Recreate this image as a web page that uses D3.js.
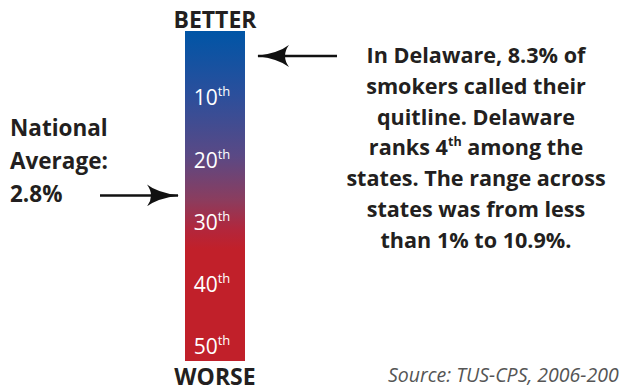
<!DOCTYPE html>
<html><head><meta charset="utf-8">
<script src="https://cdn.jsdelivr.net/npm/d3@7"></script>
<style>
html,body{margin:0;padding:0;background:#fff;}
svg{display:block;}
text{font-family:"Open Sans","Noto Sans",sans-serif;}
</style></head>
<body>
<div id="chart"></div>
<script>
// ---- data ----
const rankDomain = [0, 53];
const rankTicks = [10, 20, 30, 40, 50];
const rankSuffix = "th";
const scaleEnds = ["BETTER", "WORSE"];
const delawareRank = 4;
const nationalAverageRank = 26.4;
const nationalLines = ["National", "Average:", "2.8%"];
const calloutLines = [
  ["In Delaware, 8.3% of"],
  ["smokers called their"],
  ["quitline. Delaware"],
  ["ranks 4", "th", " among the"],
  ["states. The range across"],
  ["states was from less"],
  ["than 1% to 10.9%."]
];
const gradientRanks = [0, 10, 20, 27, 32, 35, 53];
const gradientColors = ["#0055a6", "#2a4f9c", "#5a4985", "#8a3d5f", "#b3263b", "#c1202a", "#c1202a"];
const sourceText = "Source: TUS-CPS, 2006-2007";

// ---- layout ----
const W = 620, H = 387;
const barX0 = 185, barX1 = 245;
const svg = d3.select("#chart").append("svg").attr("width", W).attr("height", H);

const y = d3.scaleLinear().domain(rankDomain).range([31, 361]);
const color = d3.scaleLinear().domain(gradientRanks).range(gradientColors);

const defs = svg.append("defs");
const grad = defs.append("linearGradient").attr("id", "rankGrad")
  .attr("gradientUnits", "userSpaceOnUse")
  .attr("x1", 0).attr("x2", 0).attr("y1", y(rankDomain[0])).attr("y2", y(rankDomain[1]));
grad.selectAll("stop").data(gradientRanks).join("stop")
  .attr("offset", d => (d - rankDomain[0]) / (rankDomain[1] - rankDomain[0]))
  .attr("stop-color", d => color(d));

defs.append("marker").attr("id", "head")
  .attr("viewBox", "0 0 32 22").attr("refX", 31).attr("refY", 11)
  .attr("markerWidth", 32).attr("markerHeight", 22).attr("markerUnits", "userSpaceOnUse")
  .attr("orient", "auto")
  .append("path").attr("d", "M0,0 Q10,8 32,11 Q10,14 0,22 Q8,11 0,0 Z").attr("fill", "#111");

svg.append("rect").attr("x", barX0).attr("width", barX1 - barX0)
  .attr("y", y(rankDomain[0])).attr("height", y(rankDomain[1]) - y(rankDomain[0]))
  .attr("fill", "url(#rankGrad)");

// rank labels
const cx = (barX0 + barX1) / 2;
const lbl = svg.append("g").selectAll("text").data(rankTicks).join("text")
  .attr("x", cx - 3).attr("y", d => y(d) + 12)
  .attr("text-anchor", "middle").attr("fill", "#fff")
  .attr("font-size", 21);
lbl.append("tspan").text(d => d);
lbl.append("tspan").text(rankSuffix).attr("font-size", 13).attr("dy", -9);

// ends
svg.append("text").attr("x", cx).attr("y", 28).attr("text-anchor", "middle")
  .attr("font-weight", "bold").attr("font-size", 23).attr("fill", "#231f20").text(scaleEnds[0]);
svg.append("text").attr("x", cx).attr("y", 385).attr("text-anchor", "middle")
  .attr("font-weight", "bold").attr("font-size", 23).attr("fill", "#231f20").text(scaleEnds[1]);

// Delaware arrow
svg.append("line").attr("x1", 337).attr("x2", 258)
  .attr("y1", y(delawareRank)).attr("y2", y(delawareRank))
  .attr("stroke", "#111").attr("stroke-width", 2.5).attr("marker-end", "url(#head)");

// national average arrow
svg.append("line").attr("x1", 100).attr("x2", 178)
  .attr("y1", y(nationalAverageRank)).attr("y2", y(nationalAverageRank))
  .attr("stroke", "#111").attr("stroke-width", 2.5).attr("marker-end", "url(#head)");

// national text
svg.append("g").selectAll("text").data(nationalLines).join("text")
  .attr("x", 10).attr("y", (d, i) => 136 + i * 33)
  .attr("font-weight", "bold").attr("font-size", 22.5).attr("fill", "#231f20")
  .text(d => d);

// callout
const co = svg.append("g").selectAll("text").data(calloutLines).join("text")
  .attr("x", 476).attr("y", (d, i) => 63 + i * 30.8)
  .attr("text-anchor", "middle").attr("font-weight", "bold").attr("font-size", 21.6).attr("fill", "#231f20");
co.each(function(parts) {
  const t = d3.select(this);
  parts.forEach((p, i) => {
    const s = t.append("tspan").text(p);
    if (p === rankSuffix) { s.attr("font-size", 12.5).attr("dy", -9); }
    else if (i > 0 && parts[i - 1] === rankSuffix) { s.attr("dy", 9); }
  });
});

// source
svg.append("text").attr("x", 388).attr("y", 382)
  .attr("font-style", "italic").attr("font-size", 19.5).attr("fill", "#555")
  .text(sourceText);
</script>
</body></html>
